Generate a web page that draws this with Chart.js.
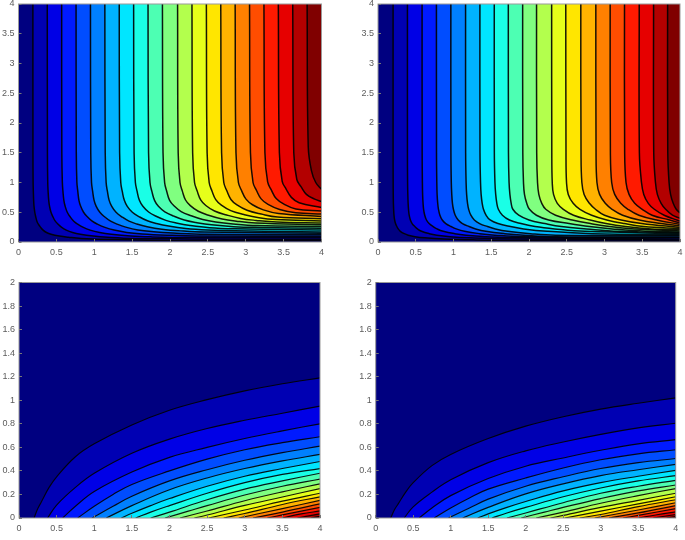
<!DOCTYPE html>
<html>
<head>
<meta charset="utf-8">
<script src="https://cdn.jsdelivr.net/npm/chart.js@4"></script>
<style>
html,body{margin:0;padding:0;background:#fff;width:685px;height:540px;overflow:hidden}
canvas{position:absolute;filter:blur(.55px)}
</style>
</head>
<body>
<canvas id="tl"></canvas><canvas id="tr"></canvas><canvas id="bl"></canvas><canvas id="br"></canvas>
<script>
const bandColors = ['#000080','#0000b3','#0000e6','#001aff','#004dff','#0080ff','#00b3ff','#00e6ff','#1affe6','#4dffb3','#80ff80','#b3ff4d','#e6ff1a','#ffe600','#ffb300','#ff8000','#ff4d00','#ff1a00','#e60000','#b30000','#800000'];
const xTicks = [0,0.5,1,1.5,2,2.5,3,3.5,4];

// top-left contours
const tlX = [
[.19,.191,.193,.196,.2,.205,.215,.228,.243,.262,.29,.325,.37,.43,.54,.66,.83,1.3,2.1,4],
[.38,.382,.386,.391,.399,.41,.429,.456,.486,.521,.566,.631,.714,.817,.988,1.178,1.52,2.28,4],
[.57,.572,.579,.587,.599,.616,.644,.684,.73,.781,.849,.946,1.072,1.226,1.482,1.767,2.28,4],
[.76,.763,.771,.783,.798,.821,.859,.912,.973,1.041,1.132,1.262,1.429,1.634,1.976,2.356,4],
[.95,.954,.964,.979,.998,1.026,1.074,1.14,1.216,1.302,1.416,1.577,1.786,2.043,2.47,4],
[1.14,1.145,1.157,1.174,1.197,1.231,1.288,1.368,1.459,1.562,1.699,1.892,2.143,2.451,4],
[1.33,1.335,1.35,1.37,1.397,1.436,1.503,1.596,1.702,1.822,1.982,2.208,2.5,2.86,4],
[1.52,1.526,1.543,1.566,1.596,1.642,1.718,1.824,1.946,2.082,2.265,2.523,2.858,4],
[1.71,1.717,1.736,1.761,1.796,1.847,1.932,2.052,2.189,2.343,2.548,2.839,3.215,4],
[1.9,1.908,1.929,1.957,1.995,2.052,2.147,2.28,2.432,2.603,2.831,3.154,4],
[2.1,2.108,2.132,2.163,2.205,2.268,2.373,2.52,2.688,2.877,3.129,4],
[2.29,2.299,2.324,2.359,2.405,2.473,2.588,2.748,2.931,3.137,3.41,4],
[2.48,2.49,2.517,2.554,2.604,2.678,2.802,2.976,3.174,3.398,4],
[2.67,2.681,2.71,2.75,2.804,2.884,3.017,3.204,3.418,4],
[2.86,2.871,2.903,2.946,3.003,3.089,3.232,3.432,4],
[3.05,3.062,3.096,3.142,3.203,3.294,3.447,3.66,4],
[3.24,3.253,3.289,3.337,3.402,3.499,3.661,4],
[3.43,3.444,3.481,3.533,3.602,3.704,4],
[3.62,3.634,3.674,3.729,3.801,3.91,4],
[3.81,3.825,3.867,3.924,4]
];
const tlY = [
[4,1.5,1,.85,.7,.6,.5,.42,.35,.3,.25,.2,.16,.13,.1,.08,.06,.04,.027,.02],
[4,1.5,1,.85,.7,.6,.5,.42,.35,.3,.25,.2,.16,.13,.1,.08,.06,.052,.045],
[4,1.5,1,.85,.7,.6,.5,.42,.35,.3,.25,.2,.16,.13,.1,.086,.076,.07],
[4,1.5,1,.85,.7,.6,.5,.42,.35,.3,.25,.2,.16,.135,.114,.101,.095],
[4,1.5,1,.85,.7,.6,.5,.42,.35,.3,.25,.203,.173,.151,.129,.12],
[4,1.5,1,.85,.7,.6,.5,.42,.35,.302,.257,.216,.187,.167,.145],
[4,1.5,1,.85,.7,.6,.5,.423,.356,.311,.268,.228,.202,.187,.17],
[4,1.5,1,.85,.7,.6,.504,.428,.364,.32,.278,.24,.222,.2],
[4,1.5,1,.85,.7,.6,.508,.434,.37,.328,.288,.258,.245,.23],
[4,1.5,1,.85,.7,.608,.512,.44,.378,.336,.303,.276,.26],
[4,1.5,1,.855,.706,.611,.517,.445,.386,.35,.32,.29],
[4,1.5,1,.856,.709,.614,.521,.454,.396,.363,.335,.32],
[4,1.5,1,.857,.711,.618,.527,.462,.408,.378,.355],
[4,1.5,1,.86,.715,.622,.533,.47,.42,.39],
[4,1.5,1,.86,.72,.626,.54,.48,.43],
[4,1.5,1,.865,.725,.632,.547,.492,.47],
[4,1.5,1.01,.875,.73,.64,.555,.52],
[4,1.5,1.02,.89,.75,.66,.58],
[4,1.5,1.05,.93,.8,.72,.68],
[4,1.6,1.2,1,.885]
];

// top-right contours: x at shared y levels, then the y where each meets x=4
const trLevels = [4,1.5,1,.8,.65,.55,.45,.37,.31,.26,.22,.18,.14,.115,.09,.07,.05,.035,.02];
const trX = [
[.2,.2,.201,.202,.204,.207,.212,.22,.232,.25,.268,.296,.348,.4,.49,.62,.88,1.3,2],
[.39,.39,.392,.395,.399,.404,.413,.429,.452,.488,.523,.577,.679,.78,.956,1.21,1.72],
[.584,.585,.588,.591,.597,.604,.619,.642,.677,.73,.783,.864,1.016,1.168,1.431,1.81],
[.774,.775,.779,.783,.791,.801,.82,.851,.898,.968,1.037,1.146,1.347,1.548,1.896],
[.965,.966,.971,.977,.986,.999,1.023,1.062,1.119,1.206,1.293,1.428,1.679,1.93,2.36],
[1.16,1.161,1.167,1.174,1.186,1.201,1.23,1.276,1.346,1.45,1.554,1.717,2.02,2.35],
[1.35,1.351,1.358,1.366,1.38,1.397,1.431,1.485,1.59,1.755,1.93,2.24,2.84],
[1.54,1.541,1.549,1.559,1.574,1.594,1.648,1.74,1.894,2.08,2.34,2.74],
[1.726,1.728,1.736,1.747,1.764,1.786,1.864,2,2.21,2.43,2.76,3.19],
[1.916,1.918,1.927,1.94,1.97,2.006,2.098,2.26,2.53,2.8,3.1,3.54],
[2.1,2.102,2.113,2.13,2.169,2.222,2.352,2.573,2.814,3.066,3.4],
[2.3,2.302,2.308,2.325,2.375,2.455,2.59,2.81,3.02,3.28,3.62],
[2.487,2.49,2.497,2.52,2.585,2.675,2.83,3.03,3.26,3.52],
[2.686,2.689,2.7,2.73,2.8,2.88,3,3.22,3.49],
[2.885,2.888,2.9,2.935,3.01,3.1,3.24,3.46,3.75],
[3.075,3.078,3.095,3.135,3.215,3.31,3.455,3.69],
[3.265,3.267,3.285,3.325,3.4,3.5,3.63,3.86],
[3.46,3.462,3.49,3.52,3.58,3.66,3.79],
[3.65,3.652,3.675,3.7,3.75,3.81,3.9],
[3.836,3.838,3.855,3.875,3.91,3.95]
];
const trEdge = [.018,.035,.05,.07,.085,.105,.12,.14,.155,.17,.185,.205,.225,.245,.27,.295,.32,.35,.4,.49];

// bottom-left contours
const blX = [
[.2,.25,.3,.4,.5,.75,1,1.5,2,2.5,3,3.5,4],
[.38,.5,.75,1,1.5,2,2.5,3,3.5,4],
[.58,.75,1,1.5,2,2.5,3,3.5,4],
[.78,1,1.25,1.5,2,2.5,3,3.5,4],
[.97,1.25,1.5,2,2.5,3,3.5,4],
[1.16,1.5,2,2.5,3,3.5,4],
[1.36,1.5,1.75,2,2.5,3,3.5,4],
[1.55,1.75,2,2.5,3,3.5,4],
[1.75,2,2.5,3,3.5,4],
[1.94,2.25,2.5,3,3.5,4],
[2.14,2.5,3,3.5,4],
[2.33,2.5,3,3.5,4],
[2.52,3,3.5,4],
[2.72,3,3.5,4],
[2.92,3.5,4],
[3.11,3.5,4],
[3.3,3.5,4],
[3.5,3.75,4],
[3.7,4],
[3.88,4]
];
const blY = [
[0,.08,.14,.26,.35,.52,.63,.79,.915,1.005,1.08,1.14,1.19],
[0,.11,.26,.38,.55,.67,.76,.83,.89,.95],
[0,.1,.225,.39,.515,.6,.675,.74,.8],
[0,.1,.2,.285,.4,.5,.58,.64,.69],
[0,.1,.185,.315,.41,.49,.555,.61],
[0,.105,.24,.34,.42,.485,.54],
[0,.04,.105,.165,.27,.355,.42,.48],
[0,.05,.105,.21,.3,.37,.42],
[0,.05,.155,.245,.315,.38],
[0,.058,.105,.195,.27,.33],
[0,.06,.147,.222,.29],
[0,.025,.107,.178,.25],
[0,.068,.143,.21],
[0,.038,.115,.18],
[0,.08,.15],
[0,.05,.12],
[0,.026,.09],
[0,.035,.06],
[0,.035],
[0,.015]
];

// bottom-right contours
const brX = blX;
const brY = [
[0,.07,.12,.22,.3,.445,.54,.675,.78,.86,.925,.975,1.02],
[0,.095,.22,.325,.47,.57,.645,.71,.765,.805],
[0,.085,.19,.335,.44,.51,.575,.63,.665],
[0,.085,.17,.245,.34,.425,.495,.545,.58],
[0,.085,.16,.27,.35,.42,.47,.505],
[0,.09,.205,.29,.36,.41,.455],
[0,.035,.09,.14,.23,.3,.355,.405],
[0,.043,.09,.18,.255,.315,.36],
[0,.043,.13,.21,.27,.32],
[0,.05,.09,.165,.23,.28],
[0,.05,.125,.19,.25],
[0,.022,.09,.15,.21],
[0,.058,.12,.18],
[0,.03,.097,.155],
[0,.068,.13],
[0,.043,.105],
[0,.022,.08],
[0,.028,.052],
[0,.03],
[0,.012]
];

const levelPts = (rows, levels, edge) => rows.map((r,k) => r.map((x,i)=>({x, y:levels[i]})).concat([{x:4, y:edge[k]}]));
const rowPts = (xs, ys) => xs.map((r,k) => r.map((x,i)=>({x, y:ys[k][i]})));

const frame = {
  id:'frame',
  beforeDatasetsDraw(c){
    const a=c.chartArea, g=c.ctx;
    g.save(); g.fillStyle=bandColors[0]; g.fillRect(a.left,a.top,a.width,a.height); g.restore();
  },
  afterDatasetsDraw(c){
    const a=c.chartArea, g=c.ctx;
    g.save(); g.strokeStyle='#9a9a9a'; g.lineWidth=1; g.strokeRect(a.left,a.top,a.width,a.height); g.restore();
  }
};

function panel(id, lines, fillTo, yMax, yStep, box){
  const cv=document.getElementById(id);
  cv.width=box.w; cv.height=box.h;
  cv.style.left=box.x+'px'; cv.style.top=box.y+'px';
  const datasets=lines.map((pts,k)=>({
    data:pts, fill:fillTo, backgroundColor:bandColors[k+1],
    borderColor:'rgba(0,0,0,.9)', borderWidth:box.lw, pointRadius:0,
    tension:.4
  })).reverse();
  const tickFont={family:'"Liberation Sans",Arial,sans-serif',size:9};
  new Chart(cv,{
    type:'line',
    data:{datasets},
    plugins:[frame],
    options:{
      responsive:false, animation:false, events:[],
      layout:{padding:{top:box.pt,right:box.pr,left:0,bottom:0}},
      plugins:{legend:{display:false},tooltip:{enabled:false}},
      scales:{
        x:{type:'linear',min:0,max:4,
          afterFit(s){s.height=box.ah;s.paddingLeft=0;s.paddingRight=0;},
          afterBuildTicks(s){s.ticks=xTicks.map(v=>({value:v}));},
          border:{display:false},
          grid:{drawOnChartArea:false,drawTicks:true,tickLength:-3,color:'#777',z:1},
          ticks:{color:'#5c5c5c',font:tickFont,padding:8,maxRotation:0,autoSkip:false,callback:v=>String(v)}},
        y:{type:'linear',min:0,max:yMax,
          afterFit(s){s.width=box.aw;s.paddingTop=0;s.paddingBottom=0;},
          afterBuildTicks(s){const t=[];for(let i=0;i<=Math.round(yMax/yStep);i++)t.push({value:+(i*yStep).toFixed(1)});s.ticks=t;},
          border:{display:false},
          grid:{drawOnChartArea:false,drawTicks:true,tickLength:-3,color:'#777',z:1},
          ticks:{color:'#5c5c5c',font:tickFont,padding:7,autoSkip:false,callback:v=>String(v)}}
      }
    }
  });
}

panel('tl',rowPts(tlX,tlY),'end',4,.5,{x:0,y:0,w:330,h:258,aw:18.5,ah:16,pt:4,pr:8.5,lw:1.5});
panel('tr',levelPts(trX,trLevels,trEdge),'end',4,.5,{x:360,y:0,w:325,h:258,aw:18,ah:16,pt:4,pr:5,lw:1.5});
panel('bl',rowPts(blX,blY),'start',2,.2,{x:0,y:270,w:330,h:264,aw:19,ah:16,pt:12.5,pr:10,lw:1.15});
panel('br',rowPts(brX,brY),'start',2,.2,{x:357,y:270,w:328,h:264,aw:18.7,ah:16,pt:12.5,pr:9.3,lw:1.15});
</script>
</body>
</html>
